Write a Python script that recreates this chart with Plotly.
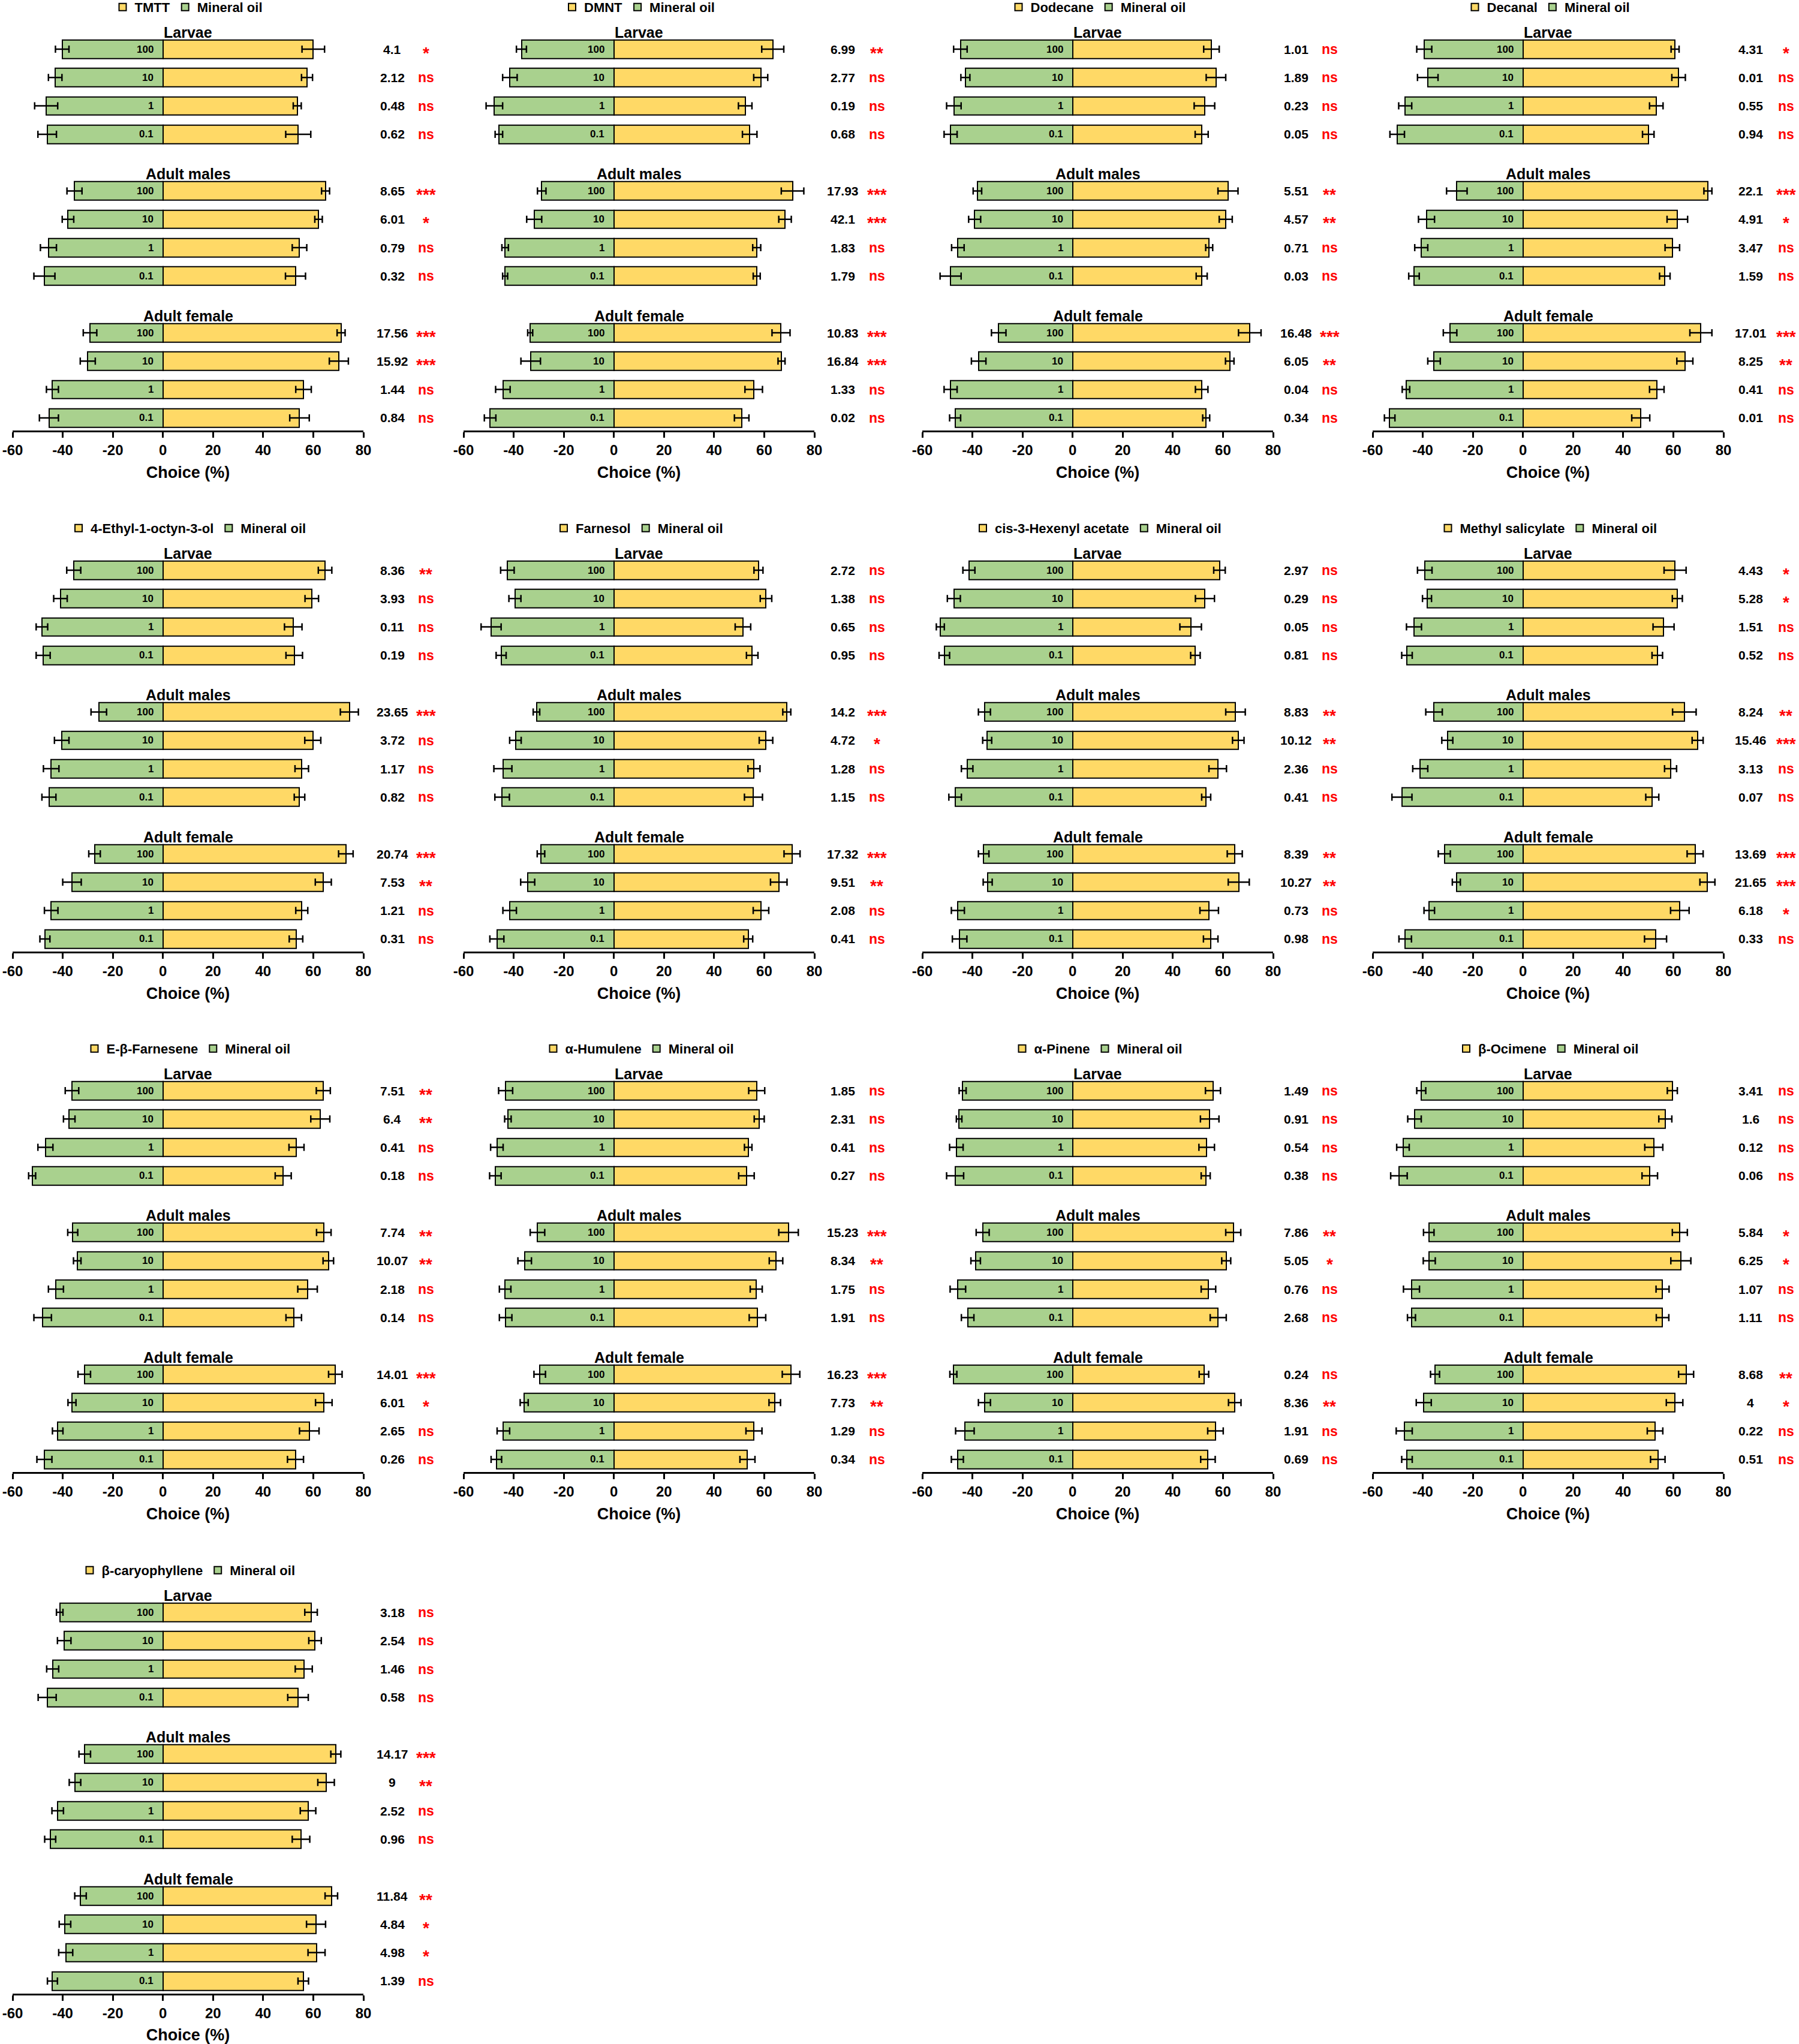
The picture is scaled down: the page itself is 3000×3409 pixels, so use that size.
import plotly.graph_objects as go

# ---- data ---------------------------------------------------------------
# each list: Larvae (100, 10, 1, 0.1), Adult males (...), Adult female (...)
compounds = ["TMTT", "DMNT", "Dodecane", "Decanal",
             "4-Ethyl-1-octyn-3-ol", "Farnesol", "cis-3-Hexenyl acetate", "Methyl salicylate",
             "E-β-Farnesene", "α-Humulene", "α-Pinene", "β-Ocimene",
             "β-caryophyllene"]
stages = ["Larvae", "Adult males", "Adult female"]
doses = ["100", "10", "1", "0.1"]
x_ticks = [-60, -40, -20, 0, 20, 40, 60, 80]

odour_pct = {
    "TMTT": [60.0, 57.5, 53.6, 54.0, 64.9, 62.1, 54.5, 52.9, 71.1, 70.2, 56.1, 54.5],
    "DMNT": [63.4, 58.6, 52.4, 54.2, 71.3, 68.3, 57.0, 57.0, 66.7, 66.9, 55.8, 51.0],
    "Dodecane": [55.4, 57.2, 52.6, 51.5, 62.0, 61.1, 54.5, 51.5, 70.7, 62.7, 51.5, 53.3],
    "Decanal": [60.7, 62.1, 53.2, 50.0, 73.8, 61.6, 59.6, 56.6, 71.0, 64.6, 53.4, 47.0],
    "4-Ethyl-1-octyn-3-ol": [64.7, 59.4, 52.0, 52.4, 74.4, 59.8, 55.4, 54.5, 73.0, 64.0, 55.4, 53.1],
    "Farnesol": [57.7, 60.7, 51.5, 55.2, 69.0, 60.7, 55.9, 55.7, 71.1, 65.8, 58.7, 53.6],
    "cis-3-Hexenyl acetate": [58.6, 52.8, 47.1, 49.0, 65.0, 66.1, 57.9, 53.3, 64.7, 66.3, 54.5, 55.1],
    "Methyl salicylate": [60.7, 61.6, 56.1, 53.6, 64.4, 69.7, 58.9, 51.6, 68.7, 73.6, 62.6, 52.9],
    "E-β-Farnesene": [64.0, 62.8, 53.3, 48.0, 64.2, 66.0, 57.7, 52.2, 68.8, 64.2, 58.4, 52.9],
    "α-Humulene": [57.0, 58.0, 53.6, 52.9, 69.7, 64.7, 56.8, 57.3, 70.7, 64.2, 55.9, 53.3],
    "α-Pinene": [56.0, 54.7, 53.5, 53.1, 64.1, 61.3, 54.2, 58.1, 52.4, 64.7, 57.0, 54.0],
    "β-Ocimene": [59.6, 56.8, 52.2, 50.6, 62.6, 63.0, 55.7, 55.7, 65.1, 60.5, 52.7, 53.8],
    "β-caryophyllene": [59.1, 60.7, 56.2, 53.9, 69.0, 65.1, 57.9, 55.1, 67.2, 61.1, 61.3, 56.0],
}
odour_se = {
    "TMTT": [4.5, 2.2, 1.6, 5.0, 1.6, 1.5, 2.9, 4.0, 1.6, 3.8, 3.1, 3.9],
    "DMNT": [4.4, 2.8, 2.7, 2.9, 4.5, 2.5, 1.6, 1.4, 3.6, 1.4, 3.5, 2.9],
    "Dodecane": [3.1, 3.9, 4.1, 2.6, 4.0, 2.6, 1.4, 2.2, 4.5, 1.7, 2.5, 1.4],
    "Decanal": [1.6, 2.7, 2.7, 2.3, 1.6, 4.1, 2.9, 2.1, 4.4, 3.2, 2.9, 3.6],
    "4-Ethyl-1-octyn-3-ol": [2.7, 2.7, 3.5, 3.3, 3.6, 3.2, 2.7, 2.1, 2.9, 3.2, 2.4, 2.7],
    "Farnesol": [1.8, 2.3, 3.1, 2.3, 1.6, 2.7, 2.4, 3.6, 3.2, 3.3, 3.1, 1.8],
    "cis-3-Hexenyl acetate": [2.3, 3.8, 4.3, 1.9, 3.9, 2.3, 3.5, 1.8, 3.0, 4.2, 3.7, 2.9],
    "Methyl salicylate": [4.4, 2.0, 4.2, 2.1, 4.7, 2.2, 2.4, 2.6, 3.2, 3.0, 3.7, 4.4],
    "E-β-Farnesene": [2.8, 3.8, 3.0, 3.2, 2.9, 2.1, 3.9, 3.1, 2.7, 3.3, 3.9, 3.2],
    "α-Humulene": [3.2, 2.0, 1.5, 3.1, 3.9, 2.7, 2.4, 3.3, 3.5, 2.3, 3.2, 3.0],
    "α-Pinene": [3.0, 3.7, 3.1, 1.8, 3.0, 1.8, 2.9, 3.2, 1.9, 2.5, 3.1, 2.9],
    "β-Ocimene": [2.0, 2.6, 3.6, 3.1, 3.0, 4.0, 2.6, 2.5, 3.0, 3.3, 3.1, 2.9],
    "β-caryophyllene": [2.5, 2.5, 3.4, 4.1, 2.0, 3.3, 3.1, 3.5, 2.5, 3.8, 3.4, 2.1],
}
oil_pct = {
    "TMTT": [-40.2, -43.0, -46.6, -46.2, -35.3, -37.9, -45.7, -47.3, -29.1, -30.0, -44.1, -45.5],
    "DMNT": [-36.9, -41.5, -47.7, -45.9, -28.8, -31.8, -43.4, -43.4, -33.4, -33.2, -44.3, -49.4],
    "Dodecane": [-44.8, -42.8, -47.4, -48.7, -38.0, -39.1, -45.8, -48.7, -29.5, -37.5, -48.7, -46.9],
    "Decanal": [-39.4, -38.0, -47.0, -50.2, -26.4, -38.5, -40.6, -43.5, -29.1, -35.5, -46.7, -53.2],
    "4-Ethyl-1-octyn-3-ol": [-35.6, -40.9, -48.3, -47.8, -25.6, -40.4, -44.6, -45.5, -27.3, -36.3, -44.6, -47.1],
    "Farnesol": [-42.5, -39.5, -49.0, -45.0, -30.9, -39.3, -44.3, -44.6, -29.1, -34.4, -41.6, -46.7],
    "cis-3-Hexenyl acetate": [-41.4, -47.4, -52.8, -51.2, -35.2, -34.1, -42.1, -46.9, -35.5, -33.9, -45.8, -45.1],
    "Methyl salicylate": [-39.2, -38.3, -43.5, -46.3, -35.5, -30.2, -41.0, -48.3, -31.4, -26.6, -37.4, -47.0],
    "E-β-Farnesene": [-36.3, -37.4, -46.9, -52.2, -36.0, -34.2, -42.7, -48.0, -31.4, -36.3, -42.0, -47.3],
    "α-Humulene": [-43.2, -42.3, -46.7, -47.3, -30.5, -35.6, -43.4, -43.2, -29.6, -35.8, -44.1, -46.9],
    "α-Pinene": [-43.9, -45.3, -46.4, -46.9, -35.9, -38.7, -45.8, -41.9, -47.6, -35.2, -43.0, -46.0],
    "β-Ocimene": [-40.6, -43.3, -47.9, -49.5, -37.6, -37.4, -44.5, -44.5, -35.1, -39.6, -47.4, -46.3],
    "β-caryophyllene": [-41.2, -39.4, -44.0, -46.2, -31.2, -35.1, -42.0, -45.0, -32.9, -39.1, -38.8, -44.1],
}
oil_se = {
    "TMTT": [2.7, 2.7, 4.6, 3.7, 3.0, 2.3, 3.2, 4.2, 2.7, 3.0, 2.4, 3.8],
    "DMNT": [2.0, 2.9, 3.3, 1.5, 1.7, 3.0, 1.3, 1.0, 1.0, 3.9, 2.9, 2.3],
    "Dodecane": [2.7, 1.8, 2.9, 2.6, 1.7, 2.4, 2.5, 4.2, 2.9, 2.9, 2.6, 2.2],
    "Decanal": [3.0, 4.1, 2.6, 2.9, 4.1, 3.2, 2.6, 2.1, 2.7, 2.5, 1.5, 2.1],
    "4-Ethyl-1-octyn-3-ol": [2.8, 2.7, 2.3, 2.8, 3.1, 2.9, 3.1, 2.8, 2.3, 3.7, 2.7, 2.0],
    "Farnesol": [2.7, 2.4, 4.0, 2.0, 1.3, 2.3, 3.6, 2.9, 1.5, 2.8, 2.7, 2.8],
    "cis-3-Hexenyl acetate": [2.4, 2.6, 1.6, 2.1, 2.4, 1.8, 2.3, 2.5, 2.1, 1.8, 2.6, 2.9],
    "Methyl salicylate": [2.9, 1.8, 3.0, 2.1, 3.3, 2.2, 3.0, 4.0, 2.4, 1.6, 2.1, 2.5],
    "E-β-Farnesene": [2.7, 2.3, 3.0, 1.4, 2.0, 1.5, 3.0, 3.5, 2.5, 1.6, 2.1, 3.0],
    "α-Humulene": [2.8, 1.3, 2.5, 2.3, 2.9, 2.7, 2.3, 2.5, 2.3, 1.6, 2.5, 2.1],
    "α-Pinene": [1.4, 1.1, 2.7, 3.4, 2.6, 1.9, 3.1, 2.5, 1.4, 2.4, 3.7, 2.4],
    "β-Ocimene": [1.8, 2.7, 2.5, 3.3, 2.1, 2.4, 3.2, 1.6, 1.8, 3.0, 3.2, 2.1],
    "β-caryophyllene": [1.3, 2.7, 2.4, 3.6, 2.3, 2.3, 2.3, 2.2, 2.3, 2.3, 2.8, 2.0],
}
chi2 = {
    "TMTT": [4.1, 2.12, 0.48, 0.62, 8.65, 6.01, 0.79, 0.32, 17.56, 15.92, 1.44, 0.84],
    "DMNT": [6.99, 2.77, 0.19, 0.68, 17.93, 42.1, 1.83, 1.79, 10.83, 16.84, 1.33, 0.02],
    "Dodecane": [1.01, 1.89, 0.23, 0.05, 5.51, 4.57, 0.71, 0.03, 16.48, 6.05, 0.04, 0.34],
    "Decanal": [4.31, 0.01, 0.55, 0.94, 22.1, 4.91, 3.47, 1.59, 17.01, 8.25, 0.41, 0.01],
    "4-Ethyl-1-octyn-3-ol": [8.36, 3.93, 0.11, 0.19, 23.65, 3.72, 1.17, 0.82, 20.74, 7.53, 1.21, 0.31],
    "Farnesol": [2.72, 1.38, 0.65, 0.95, 14.2, 4.72, 1.28, 1.15, 17.32, 9.51, 2.08, 0.41],
    "cis-3-Hexenyl acetate": [2.97, 0.29, 0.05, 0.81, 8.83, 10.12, 2.36, 0.41, 8.39, 10.27, 0.73, 0.98],
    "Methyl salicylate": [4.43, 5.28, 1.51, 0.52, 8.24, 15.46, 3.13, 0.07, 13.69, 21.65, 6.18, 0.33],
    "E-β-Farnesene": [7.51, 6.4, 0.41, 0.18, 7.74, 10.07, 2.18, 0.14, 14.01, 6.01, 2.65, 0.26],
    "α-Humulene": [1.85, 2.31, 0.41, 0.27, 15.23, 8.34, 1.75, 1.91, 16.23, 7.73, 1.29, 0.34],
    "α-Pinene": [1.49, 0.91, 0.54, 0.38, 7.86, 5.05, 0.76, 2.68, 0.24, 8.36, 1.91, 0.69],
    "β-Ocimene": [3.41, 1.6, 0.12, 0.06, 5.84, 6.25, 1.07, 1.11, 8.68, 4, 0.22, 0.51],
    "β-caryophyllene": [3.18, 2.54, 1.46, 0.58, 14.17, 9, 2.52, 0.96, 11.84, 4.84, 4.98, 1.39],
}
sig = {
    "TMTT": ["*", "ns", "ns", "ns", "***", "*", "ns", "ns", "***", "***", "ns", "ns"],
    "DMNT": ["**", "ns", "ns", "ns", "***", "***", "ns", "ns", "***", "***", "ns", "ns"],
    "Dodecane": ["ns", "ns", "ns", "ns", "**", "**", "ns", "ns", "***", "**", "ns", "ns"],
    "Decanal": ["*", "ns", "ns", "ns", "***", "*", "ns", "ns", "***", "**", "ns", "ns"],
    "4-Ethyl-1-octyn-3-ol": ["**", "ns", "ns", "ns", "***", "ns", "ns", "ns", "***", "**", "ns", "ns"],
    "Farnesol": ["ns", "ns", "ns", "ns", "***", "*", "ns", "ns", "***", "**", "ns", "ns"],
    "cis-3-Hexenyl acetate": ["ns", "ns", "ns", "ns", "**", "**", "ns", "ns", "**", "**", "ns", "ns"],
    "Methyl salicylate": ["*", "*", "ns", "ns", "**", "***", "ns", "ns", "***", "***", "*", "ns"],
    "E-β-Farnesene": ["**", "**", "ns", "ns", "**", "**", "ns", "ns", "***", "*", "ns", "ns"],
    "α-Humulene": ["ns", "ns", "ns", "ns", "***", "**", "ns", "ns", "***", "**", "ns", "ns"],
    "α-Pinene": ["ns", "ns", "ns", "ns", "**", "*", "ns", "ns", "ns", "**", "ns", "ns"],
    "β-Ocimene": ["ns", "ns", "ns", "ns", "*", "*", "ns", "ns", "**", "*", "ns", "ns"],
    "β-caryophyllene": ["ns", "ns", "ns", "ns", "***", "**", "ns", "ns", "**", "*", "*", "ns"],
}

# ---- page geometry (pixels) ---------------------------------------------
W, H = 3000, 3409
col_x0 = [21, 773, 1538, 2289]
chi_off = [48, 47, 38, 45]     # centre of chi-square column, right of the axis end
sig_off = [104, 104, 94, 104]  # centre of significance column
row_y0 = [0, 869, 1737, 2607]
axis_w = 585
slot = 47.3          # distance between bar centres
first_bar = 82       # centre of first bar below row top
axis_line = 718      # x axis line below row top

YELLOW = "#FFD966"
GREEN = "#A9D18E"
RED = "#FF0000"
FONT = "Liberation Sans, Arial, sans-serif"

fig = go.Figure()
annotations = []
y_bottom = (axis_line - first_bar) / slot

for k, name in enumerate(compounds):
    r, c = divmod(k, 4)
    n = "" if k == 0 else str(k + 1)
    xa, ya = "x" + n, "y" + n
    lg = "legend" + n

    ypos = [s * 5 + d for s in range(len(stages)) for d in range(len(doses))]
    labels = [d for s in stages for d in doses]

    fig.add_trace(go.Bar(
        x=odour_pct[name], y=ypos, orientation="h", width=0.65, name=name,
        marker=dict(color=YELLOW, line=dict(color="black", width=2)),
        error_x=dict(type="data", array=odour_se[name], color="black", thickness=2.5, width=6),
        xaxis=xa, yaxis=ya, legend=lg, hoverinfo="x+y"))
    fig.add_trace(go.Bar(
        x=oil_pct[name], y=ypos, orientation="h", width=0.65, name="Mineral oil",
        marker=dict(color=GREEN, line=dict(color="black", width=2)),
        error_x=dict(type="data", array=oil_se[name], color="black", thickness=2.5, width=6),
        xaxis=xa, yaxis=ya, legend=lg, hoverinfo="x+y"))

    x0 = col_x0[c] / W
    x1 = (col_x0[c] + axis_w) / W
    top = row_y0[r] + first_bar - slot
    bot = row_y0[r] + axis_line
    fig.layout["xaxis" + n] = dict(
        domain=[x0, x1], anchor=ya, range=[-60, 80], automargin=False,
        tickvals=x_ticks, ticktext=[str(t) for t in x_ticks],
        showgrid=False, zeroline=False, showline=True, linecolor="black", linewidth=2.5,
        ticks="outside", ticklen=9, tickwidth=2.5, tickcolor="black",
        tickfont=dict(family=FONT, size=24, color="black", weight="bold"),
        title=dict(text="Choice (%)", standoff=16,
                   font=dict(family=FONT, size=27, color="black", weight="bold")))
    fig.layout["yaxis" + n] = dict(
        domain=[1 - bot / H, 1 - top / H], anchor=xa, range=[y_bottom, -1], automargin=False,
        showgrid=False, zeroline=False, showline=False, showticklabels=False, ticks="")
    fig.layout[lg] = dict(
        x=(x0 + x1) / 2, y=1 - (row_y0[r] + 12) / H, xanchor="center", yanchor="middle",
        orientation="h", bgcolor="rgba(0,0,0,0)", traceorder="normal",
        font=dict(family=FONT, size=22, color="black", weight="bold"))

    xd = xa + " domain"
    cx = 1 + chi_off[c] / axis_w
    sx = 1 + sig_off[c] / axis_w
    for s, stage in enumerate(stages):
        annotations.append(dict(
            x=0.5, y=s * 5 - 0.6, xref=xd, yref=ya, text=stage, showarrow=False,
            xanchor="center",
            font=dict(family=FONT, size=25, color="black", weight="bold")))
    annotations.append(dict(
        x=cx, y=-1.05, xref=xd, yref=ya, text="χ<sup>2</sup>", showarrow=False,
        xanchor="center",
        font=dict(family=FONT, size=25, color="black", weight="bold")))
    annotations.append(dict(
        x=sx, y=-1.05, xref=xd, yref=ya, text="Sig.", showarrow=False,
        xanchor="center",
        font=dict(family=FONT, size=23, color="black", weight="bold")))
    for i, yv in enumerate(ypos):
        annotations.append(dict(
            x=0, y=yv, xref=xa, yref=ya, text=labels[i], showarrow=False,
            xanchor="right", xshift=-14,
            font=dict(family=FONT, size=17, color="black", weight="bold")))
        annotations.append(dict(
            x=cx, y=yv, xref=xd, yref=ya, text=f"{chi2[name][i]:g}",
            showarrow=False, xanchor="center",
            font=dict(family=FONT, size=21, color="black", weight="bold")))
        star = "*" in sig[name][i]
        annotations.append(dict(
            x=sx, y=yv, xref=xd, yref=ya, text=sig[name][i],
            showarrow=False, xanchor="center", yshift=-6 if star else 0,
            font=dict(family=FONT, size=28 if star else 23, color=RED, weight="bold")))

fig.update_layout(
    width=W, height=H, margin=dict(l=0, r=0, t=0, b=0, autoexpand=False),
    barmode="overlay", bargap=0, paper_bgcolor="white", plot_bgcolor="white",
    font=dict(family=FONT, color="black", weight="bold"),
    annotations=annotations)

# drop the page's default body margin so the figure sits at the window's corner
fig.write_html("out.html", config={"displayModeBar": False},
               post_script="document.body.style.margin='0';document.body.style.overflow='hidden';")
